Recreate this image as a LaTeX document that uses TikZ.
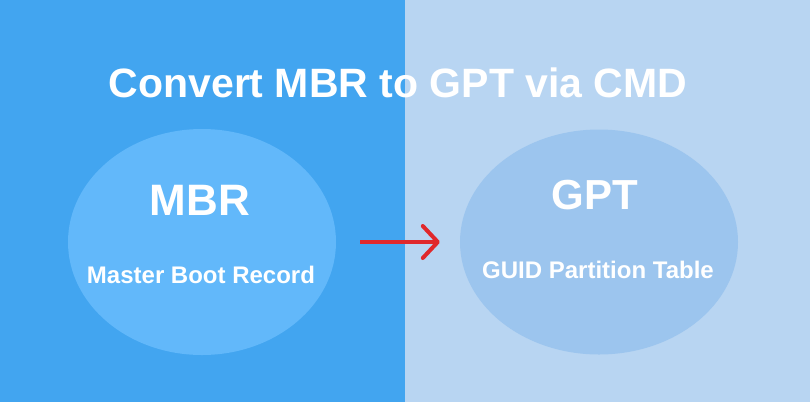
\documentclass[tikz,border=0pt]{standalone}
\usepackage{fontspec}
\setmainfont{Liberation Sans}
\usetikzlibrary{shapes.geometric,arrows.meta}
\definecolor{leftbg}{HTML}{42A5F0}
\definecolor{rightbg}{HTML}{B8D5F2}
\definecolor{mbrfill}{HTML}{62B8FA}
\definecolor{gptfill}{HTML}{9CC5EE}
\definecolor{arrowred}{HTML}{E0282C}
\tikzset{
  disk/.style={ellipse, inner sep=0pt},
  label text/.style={text=white, inner sep=0pt, font=\bfseries}
}

\begin{document}
\begin{tikzpicture}[x=1pt, y=-1pt]

    \fill[leftbg] (0,0) rectangle (405,402);
    \fill[rightbg] (405,0) rectangle (810,402);
    \useasboundingbox (0,0) rectangle (810,402);

    \node[disk, fill=mbrfill, minimum width=268pt, minimum height=226pt] (mbr) at (202,242) {};
    \node[disk, fill=gptfill, minimum width=278pt, minimum height=225pt] (gpt) at (599,242) {};

    \node[label text, font=\bfseries\fontsize{41}{41}\selectfont] (title) at (398,83) {Convert MBR to GPT via CMD};

    \node[label text, font=\bfseries\fontsize{44}{44}\selectfont] (mbrname) at (200,200) {MBR};
    \node[label text, font=\bfseries\fontsize{24}{24}\selectfont] (mbrlong) at (201,275) {Master Boot Record};

    \node[label text, font=\bfseries\fontsize{42}{42}\selectfont] (gptname) at (595,195) {GPT};
    \node[label text, font=\bfseries\fontsize{24}{24}\selectfont] (gptlong) at (598,270) {GUID Partition Table};

    \draw[arrowred, line width=4pt, -{Straight Barb[length=15pt, width=32pt, line width=4pt, round]}]
      ([xshift=24pt]mbr.east) -- ([xshift=-20pt]gpt.west);
  \end{tikzpicture}
\end{document}
